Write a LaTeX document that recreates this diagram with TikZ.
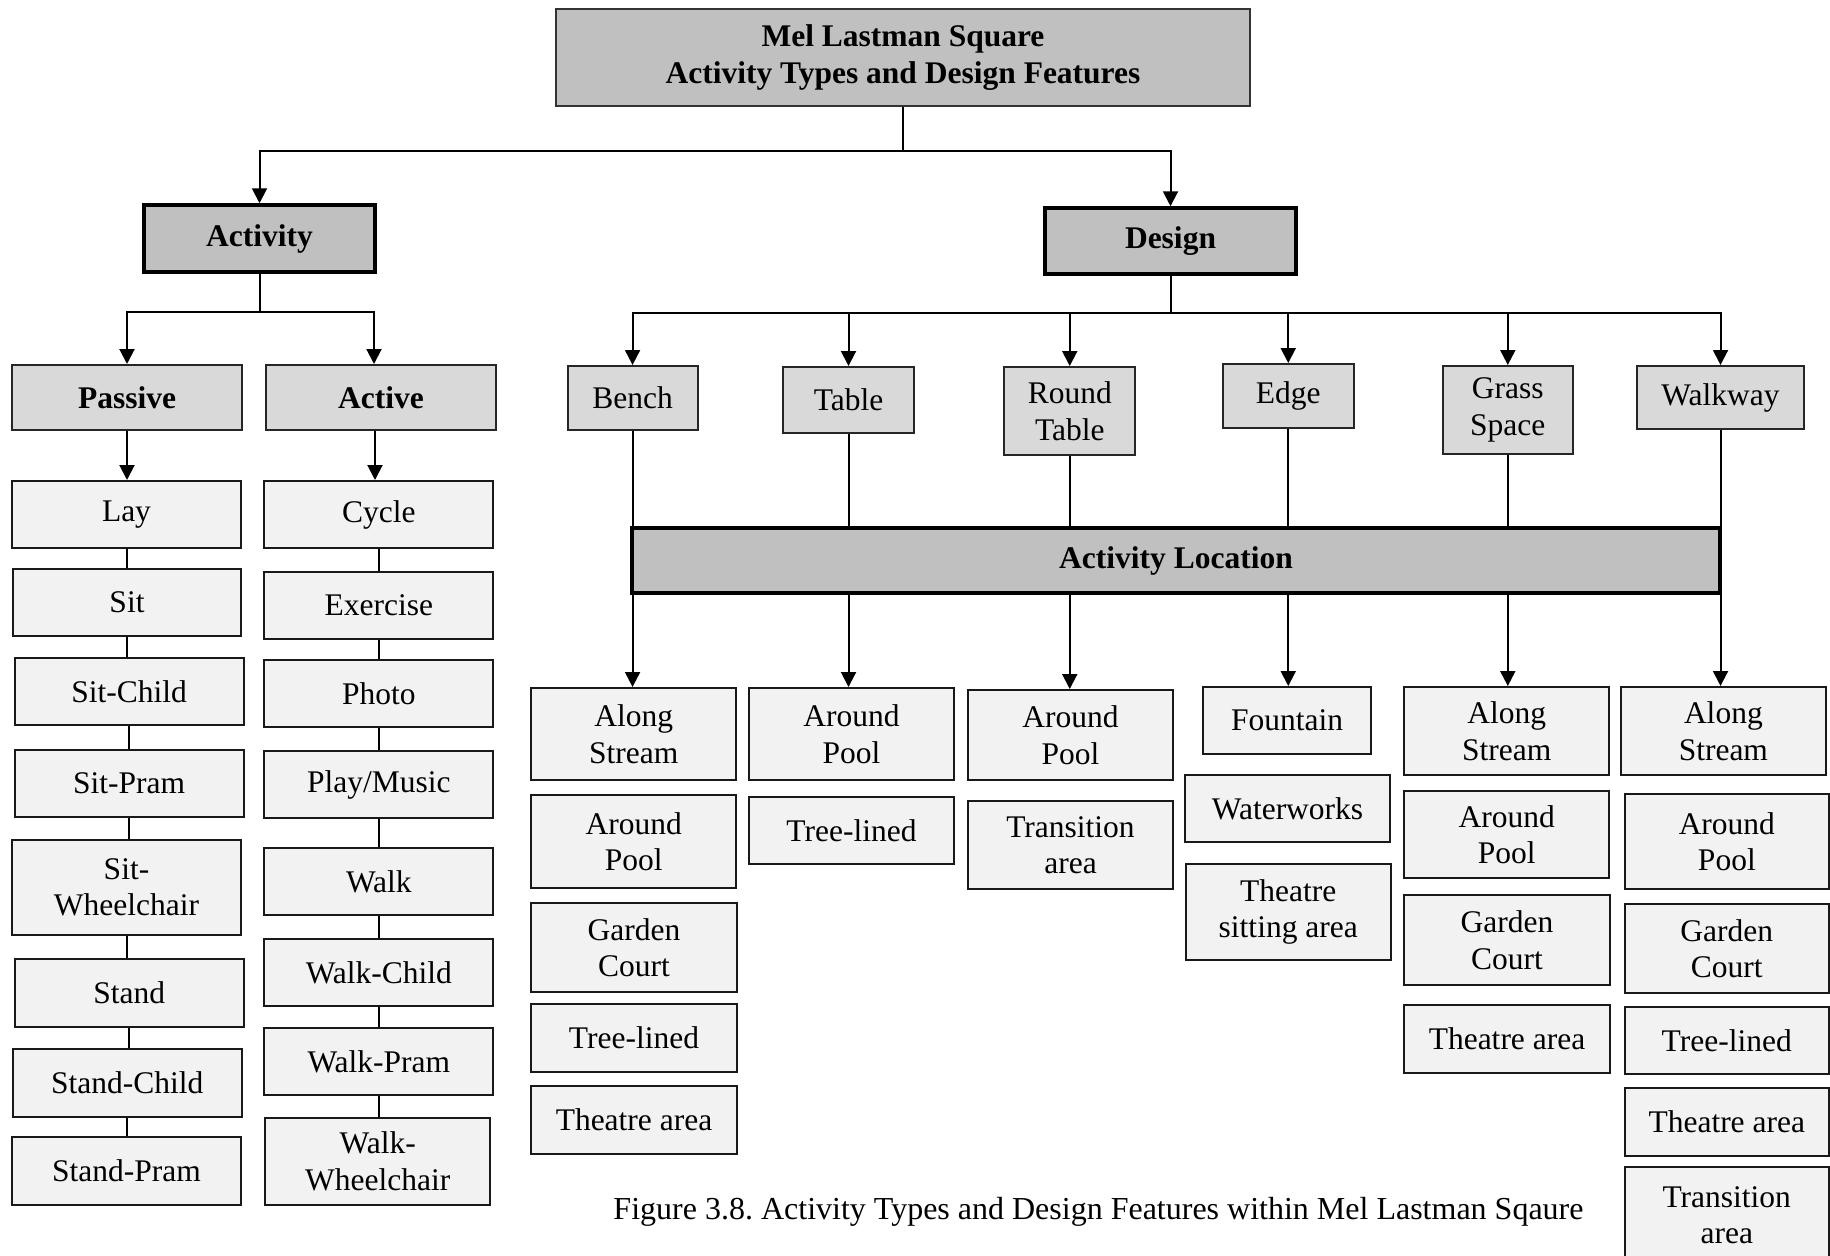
\documentclass[tikz,border=0pt]{standalone}
\usepackage{fontspec}
\setmainfont{Liberation Serif}
\usetikzlibrary{arrows.meta}
\definecolor{hdgray}{HTML}{C0C0C0}
\definecolor{subgray}{HTML}{D9D9D9}
\definecolor{itemgray}{HTML}{F2F2F2}
\frenchspacing

% \boxat{name}{x1}{y1}{x2}{y2}{style}{text}: a box given by its corners
\newcommand\boxat[7]{%
  \pgfmathsetmacro\bxw{#4-#2}%
  \pgfmathsetmacro\bxh{#5-#3}%
  \pgfmathsetmacro\bxcx{(#2+#4)/2}%
  \pgfmathsetmacro\bxcy{(#3+#5)/2}%
  \node[#6, minimum width=\bxw pt, minimum height=\bxh pt] (#1) at (\bxcx,\bxcy) {#7};}

\newcommand\txtfont{\fontsize{31.5}{36.5}\selectfont}

\begin{document}
\begin{tikzpicture}[x=1pt, y=-1pt,
  base/.style={rectangle, inner sep=0pt, align=center, font=\txtfont, text=black},
  topbox/.style={base, fill=hdgray, draw=black!80, line width=2pt, font=\fontsize{31.5}{37.5}\selectfont\bfseries},
  headbox/.style={base, fill=hdgray, draw=black, line width=3.5pt, font=\txtfont\bfseries},
  subbox/.style={base, fill=subgray, draw=black!85, line width=2pt},
  subbold/.style={subbox, font=\txtfont\bfseries},
  itembox/.style={base, fill=itemgray, draw=black!90, line width=2pt},
  conn/.style={draw=black, line width=2pt},
  arr/.style={conn, -{Triangle[width=15pt,length=15pt]}}]

\fill[white] (0,0) rectangle (1830,1255);
\useasboundingbox (0,0) rectangle (1830,1255);

% ---- top levels
\boxat{title}{556}{9}{1250}{106}{topbox}{Mel Lastman Square\\Activity Types and Design Features}
\boxat{activity}{144}{205}{375}{272}{headbox}{Activity}
\boxat{design}{1045}{208}{1296}{274}{headbox}{Design}

% ---- activity branch
\boxat{passive}{12}{365}{242}{430}{subbold}{Passive}
\boxat{active}{266}{365}{496}{430}{subbold}{Active}

\boxat{lay}{12}{481}{241}{548}{itembox}{Lay}
\boxat{sit}{12.6}{569}{241.4}{636}{itembox}{Sit}
\boxat{sitchild}{14.6}{658}{243.7}{725}{itembox}{Sit-Child}
\boxat{sitpram}{14.6}{750}{243.7}{817}{itembox}{Sit-Pram}
\boxat{sitwheel}{12}{840}{241}{935}{itembox}{Sit-\\Wheelchair}
\boxat{stand}{14.6}{959}{243.7}{1027}{itembox}{Stand}
\boxat{standchild}{12.6}{1049}{241.7}{1117}{itembox}{Stand-Child}
\boxat{standpram}{12}{1137}{241}{1205}{itembox}{Stand-Pram}

\boxat{cycle}{264.3}{481}{493.4}{548}{itembox}{Cycle}
\boxat{exercise}{264.3}{572}{493.4}{639}{itembox}{Exercise}
\boxat{photo}{264.3}{660}{493.4}{727}{itembox}{Photo}
\boxat{playmusic}{264.3}{751}{493.4}{818}{itembox}{Play/Music}
\boxat{walk}{264.3}{848}{493.4}{915}{itembox}{Walk}
\boxat{walkchild}{264.3}{939}{493.4}{1006}{itembox}{Walk-Child}
\boxat{walkpram}{264.3}{1028}{493.4}{1095}{itembox}{Walk-Pram}
\boxat{walkwheel}{265.3}{1118}{490}{1205}{itembox}{Walk-\\Wheelchair}

% ---- design branch
\boxat{bench}{567.6}{366}{697.5}{430}{subbox}{Bench}
\boxat{table}{783.3}{367}{913.7}{433}{subbox}{Table}
\boxat{roundtable}{1004.3}{367}{1135.2}{455}{subbox}{Round\\Table}
\boxat{edge}{1223}{364}{1353.5}{428}{subbox}{Edge}
\boxat{grass}{1442.7}{366}{1572.9}{454}{subbox}{Grass\\Space}
\boxat{walkway}{1637}{366}{1804}{429}{subbox}{Walkway}

\boxat{bar}{632}{528}{1720}{593}{headbox}{Activity Location}

% locations under each design feature
\boxat{c1a}{531}{688}{736.4}{780}{itembox}{Along\\Stream}
\boxat{c1b}{531}{795}{736.4}{888}{itembox}{Around\\Pool}
\boxat{c1c}{531}{903}{737}{992}{itembox}{Garden\\Court}
\boxat{c1d}{531}{1004}{737}{1072}{itembox}{Tree-lined}
\boxat{c1e}{531}{1086}{737}{1154}{itembox}{Theatre area}

\boxat{c2a}{749}{688}{954}{780}{itembox}{Around\\Pool}
\boxat{c2b}{749}{797}{954}{864}{itembox}{Tree-lined}

\boxat{c3a}{968}{690}{1173}{780}{itembox}{Around\\Pool}
\boxat{c3b}{968}{801}{1173}{889}{itembox}{Transition\\area}

\boxat{c4a}{1203}{687}{1371}{754}{itembox}{Fountain}
\boxat{c4b}{1185}{775}{1390}{842}{itembox}{Waterworks}
\boxat{c4c}{1186}{864}{1390.5}{960}{itembox}{Theatre\\sitting area}

\boxat{c5a}{1404}{687}{1609.3}{775}{itembox}{Along\\Stream}
\boxat{c5b}{1404}{791}{1609.3}{878}{itembox}{Around\\Pool}
\boxat{c5c}{1404}{895}{1610}{985}{itembox}{Garden\\Court}
\boxat{c5d}{1404}{1005}{1610}{1073}{itembox}{Theatre area}

\boxat{c6a}{1621}{687}{1825.7}{775}{itembox}{Along\\Stream}
\boxat{c6b}{1625}{794}{1828.7}{889}{itembox}{Around\\Pool}
\boxat{c6c}{1624.5}{904}{1829}{993}{itembox}{Garden\\Court}
\boxat{c6d}{1624.5}{1007}{1829}{1074}{itembox}{Tree-lined}
\boxat{c6e}{1624.5}{1088}{1829}{1156}{itembox}{Theatre area}
\boxat{c6f}{1624.5}{1167}{1829}{1263}{itembox}{Transition\\area}

\node[base, font=\fontsize{32}{38}\selectfont] (caption) at (1098.5,1212)
  {Figure 3.8. Activity Types and Design Features within Mel Lastman Sqaure};

% ---- connectors
\coordinate (tj) at ([yshift=-44pt]title.south);
\draw[conn] (title.south) -- (tj);
\draw[arr] (tj) -| (activity.north);
\draw[arr] (tj) -| (design.north);

\coordinate (aj) at ([yshift=-38pt]activity.south);
\draw[conn] (activity.south) -- (aj);
\draw[arr] (aj) -| (passive.north);
\draw[arr] (aj) -| ([xshift=-7pt]active.north);

\draw[arr] (passive.south) -- (passive.south |- lay.north);
\draw[arr] ([xshift=-6pt]active.south) -- ([xshift=-6pt]active.south |- cycle.north);

\foreach \a/\b in {lay/sit, sit/sitchild, sitchild/sitpram, sitpram/sitwheel,
                   sitwheel/stand, stand/standchild, standchild/standpram,
                   cycle/exercise, exercise/photo, photo/playmusic, playmusic/walk,
                   walk/walkchild, walkchild/walkpram, walkpram/walkwheel}
  \draw[conn] (\a.south) -- (\a.south |- \b.north);

\coordinate (dj) at ([yshift=-37pt]design.south);
\draw[conn] (design.south) -- (dj);
\foreach \f/\c in {bench/c1a, table/c2a, roundtable/c3a, edge/c4a, grass/c5a, walkway/c6a}{
  \draw[arr] (dj) -| (\f.north);
  \draw[conn] (\f.south) -- (\f.south |- bar.north);
  \draw[arr] (bar.south -| \f.south) -- (\f.south |- \c.north);
}
\end{tikzpicture}
\end{document}
